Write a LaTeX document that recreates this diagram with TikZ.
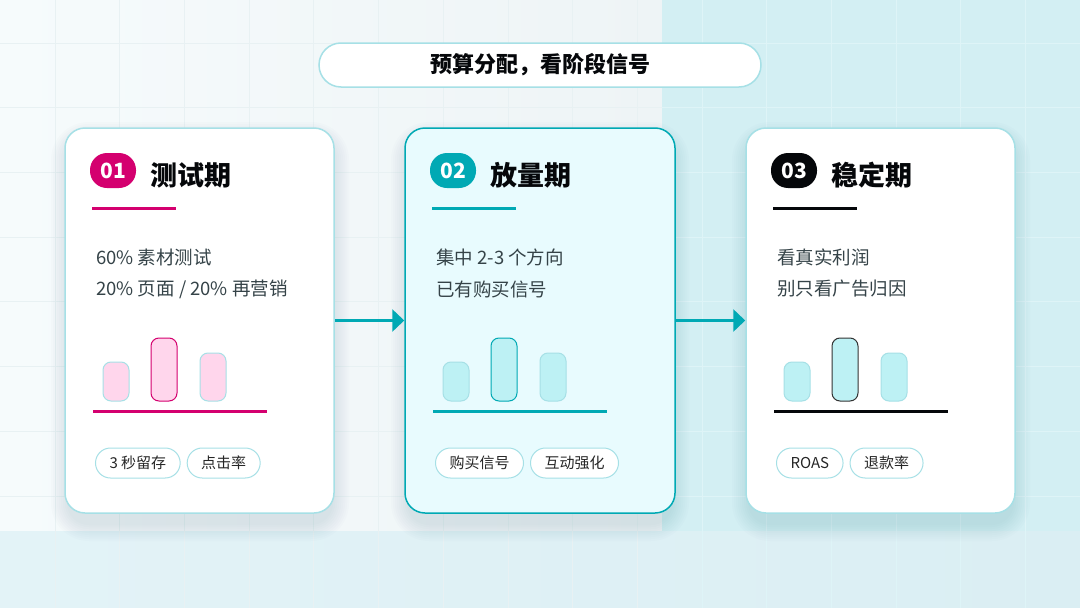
\documentclass[tikz,border=0pt]{standalone}
\usepackage{fontspec}
\setmainfont{Noto Sans CJK SC}
\usepackage{xcolor}
\usetikzlibrary{arrows.meta,positioning}
\definecolor{bgLeftA}{HTML}{F6FBFC}
\definecolor{bgLeftB}{HTML}{EEF4F6}
\definecolor{bgTeal}{HTML}{D3EFF3}
\definecolor{bgLowA}{HTML}{E3F3F7}
\definecolor{bgLowB}{HTML}{DAEEF3}
\definecolor{gridLeft}{HTML}{E8F1F3}
\definecolor{gridTeal}{HTML}{DEF4F7}
\definecolor{shadeC}{HTML}{3E6F7A}
\definecolor{rimLight}{HTML}{A6E0E6}
\definecolor{magentaC}{HTML}{D4006F}
\definecolor{tealC}{HTML}{00A9B4}
\definecolor{inkC}{HTML}{05070A}
\definecolor{bodyC}{HTML}{354348}
\definecolor{pinkFill}{HTML}{FFD6EC}
\definecolor{cyanFill}{HTML}{BDF1F4}
\definecolor{softCard}{HTML}{E8FBFE}

\begin{document}
\begin{tikzpicture}[x=1pt,y=-1pt,
    card/.style={draw=rimLight,line width=1.5pt,fill=white,rounded corners=20pt,
      minimum width=269pt,minimum height=385pt,inner sep=0pt},
    badge/.style={rounded corners=17pt,minimum width=46pt,minimum height=35pt,inner sep=0pt,
      text=white,font=\fontsize{21}{23}\selectfont\bfseries},
    stagetitle/.style={anchor=west,inner sep=0pt,text=inkC,font=\fontsize{27}{30}\selectfont\bfseries},
    bodyline/.style={anchor=west,inner sep=0pt,text=bodyC,font=\fontsize{18.5}{22}\selectfont},
    chip/.style={draw=rimLight,line width=1pt,fill=white,rounded corners=15pt,minimum height=30pt,
      inner xsep=14pt,inner ysep=0pt,text=black!85,font=\fontsize{15}{18}\selectfont},
    bar/.style={line width=1pt,rounded corners=8pt},
    rule/.style={line width=3pt},
    flow/.style={line width=3.5pt,tealC,-{Triangle[width=22pt,length=12pt]}}]
  \useasboundingbox (0,0) rectangle (1080,608);
  % Background
  \fill[left color=bgLeftA,right color=bgLeftB] (0,0) rectangle (662,531);
  \fill[bgTeal] (662,0) rectangle (1080,531);
  \fill[left color=bgLowA,right color=bgLowB] (0,531) rectangle (1080,608);
  \foreach \gx in {0,...,9}
    \draw[gridLeft,line width=0.7pt] (55+64.7*\gx,0) -- (55+64.7*\gx,608);
  \foreach \gx in {10,...,16}
    \draw[gridTeal,line width=0.7pt] (55+64.7*\gx,0) -- (55+64.7*\gx,608);
  \foreach \gy in {0,...,7} {
    \draw[gridLeft,line width=0.7pt] (0,43+64.7*\gy) -- (662,43+64.7*\gy);
    \draw[gridTeal,line width=0.7pt] (662,43+64.7*\gy) -- (1080,43+64.7*\gy);
  }
  % Heading
  \node[draw=rimLight,line width=1.5pt,fill=white,rounded corners=22pt,minimum width=442pt,
    minimum height=44pt,font=\fontsize{22}{24}\selectfont\bfseries,text=inkC] (head) at (540,65) {预算分配，看阶段信号};
  % Soft shadows under the cards
  \foreach \cx in {65,405,746}
    \foreach \s in {2,4,...,18}
      \fill[shadeC,opacity=0.017,rounded corners=20pt+\s] (\cx-\s+4,140-\s) rectangle (\cx+270+\s-4,523+\s);
  % Cards
  \node[card] (C1) at (199.5,320.5) {};
  \node[card,draw=tealC,fill=softCard,minimum width=270pt] (C2) at (540,320.5) {};
  \node[card] (C3) at (880.5,320.5) {};
  \draw[flow] (C1.east) -- (C2.west);
  \draw[flow] (C2.east) -- (C3.west);
  % Stage 01
  \node[badge,fill=magentaC] (B1) at (113,170.5) {01};
  \node[stagetitle] (T1) at (150,175) {测试期};
  \draw[rule,magentaC] (92,208) -- (176,208);
  \node[bodyline] (L1a) at (96,257) {60\% 素材测试};
  \node[bodyline] (L1b) at (96,289) {20\% 页面 / 20\% 再营销};
  \draw[bar,fill=pinkFill,draw=rimLight] (103,362) rectangle (129,401);
  \draw[bar,fill=pinkFill,draw=magentaC] (151,338) rectangle (177,401);
  \draw[bar,fill=pinkFill,draw=rimLight] (200,353) rectangle (226,401);
  \draw[rule,magentaC] (93,411) -- (267,411);
  \node[chip,anchor=west] (K1a) at (95,463) {3 秒留存};
  \node[chip,right=6pt of K1a] (K1b) {点击率};
  % Stage 02
  \node[badge,fill=tealC] (B2) at (453,170.5) {02};
  \node[stagetitle] (T2) at (490,175) {放量期};
  \draw[rule,tealC] (432,208) -- (516,208);
  \node[bodyline] (L2a) at (436,257) {集中 2-3 个方向};
  \node[bodyline] (L2b) at (436,289) {已有购买信号};
  \draw[bar,fill=cyanFill,draw=rimLight] (443,362) rectangle (469,401);
  \draw[bar,fill=cyanFill,draw=tealC] (491,338) rectangle (517,401);
  \draw[bar,fill=cyanFill,draw=rimLight] (540,353) rectangle (566,401);
  \draw[rule,tealC] (433,411) -- (607,411);
  \node[chip,anchor=west] (K2a) at (435,463) {购买信号};
  \node[chip,right=6pt of K2a] (K2b) {互动强化};
  % Stage 03
  \node[badge,fill=inkC] (B3) at (794,170.5) {03};
  \node[stagetitle] (T3) at (831,175) {稳定期};
  \draw[rule,inkC] (773,208) -- (857,208);
  \node[bodyline] (L3a) at (777,257) {看真实利润};
  \node[bodyline] (L3b) at (777,289) {别只看广告归因};
  \draw[bar,fill=cyanFill,draw=rimLight] (784,362) rectangle (810,401);
  \draw[bar,fill=cyanFill,draw=black!80] (832,338) rectangle (858,401);
  \draw[bar,fill=cyanFill,draw=rimLight] (881,353) rectangle (907,401);
  \draw[rule,inkC] (774,411) -- (948,411);
  \node[chip,anchor=west] (K3a) at (776,463) {ROAS};
  \node[chip,right=6pt of K3a] (K3b) {退款率};
\end{tikzpicture}
\end{document}
